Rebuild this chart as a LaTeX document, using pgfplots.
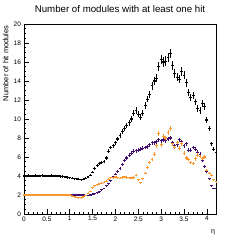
\documentclass[border=0pt]{standalone}
\usepackage{pgfplots}
\pgfplotsset{compat=1.18}
\usepackage{fontspec}
\setmainfont{Liberation Sans}
\definecolor{cpurple}{RGB}{66,13,110}
\definecolor{corange}{RGB}{250,150,45}
\pgfplotsset{
  rootplot/.style={only marks, mark=-, mark size=1.45bp, line width=1.1bp,
    mark options={line width=1.5bp},
    error bars/y dir=both, error bars/y fixed relative=0.03,
    error bars/error bar style={line width=0.9bp}, error bars/error mark=none}
}
\begin{document}
\begin{tikzpicture}
\useasboundingbox (-24bp,-26bp) rectangle (216bp,214bp);
\begin{axis}[
  at={(0,0)}, anchor=south west,
  scale only axis, width=192bp, height=190bp,
  xmin=0, xmax=4.2, ymin=0, ymax=20,
  xtick={0,0.5,...,4}, ytick={0,2,...,20},
  minor x tick num=4, minor y tick num=3,
  tick align=inside, tick pos=left,
  major tick length=5bp, minor tick length=2.5bp,
  axis line style={line width=0.8bp}, every tick/.style={line width=0.6bp, black},
  /pgf/number format/assume math mode=true,
  tick label style={font=\fontsize{6.5bp}{7bp}\selectfont},
  xticklabel style={yshift=1bp},
  yticklabel style={xshift=0.5bp},
  title={Number of modules with at least one hit},
  title style={at={(axis description cs:0.5,1)}, anchor=base, yshift=6bp, font=\fontsize{9.7bp}{11bp}\selectfont},
  ylabel={Number of hit modules},
  ylabel style={at={(axis description cs:-0.095,1.01)}, anchor=east, font=\fontsize{7.5bp}{9bp}\selectfont},
  xlabel={η},
  xlabel style={at={(axis description cs:0.985,-0.065)}, anchor=north, font=\fontsize{7bp}{8bp}\selectfont},
  clip=false,
]
\addplot[rootplot, black, mark options={black}] coordinates {
(0.00,4.0)(0.05,4.0)(0.10,4.05)(0.15,4.0)(0.20,4.0)(0.25,4.05)(0.30,4.0)(0.35,4.0)(0.40,4.05)(0.45,4.0)
(0.50,4.0)(0.55,4.0)(0.60,4.05)(0.65,4.0)(0.70,4.0)(0.75,4.0)(0.80,3.95)(0.85,3.95)(0.90,3.9)(0.95,3.85)
(1.00,3.8)(1.05,3.75)(1.10,3.7)(1.15,3.7)(1.20,3.65)(1.25,3.6)(1.30,3.65)(1.35,3.75)(1.40,3.9)(1.45,4.1)
(1.50,4.4)(1.55,4.8)(1.60,5.1)(1.65,5.3)(1.70,5.4)(1.75,5.5)(1.80,5.9)(1.85,6.6)(1.90,7.0)(1.95,7.2)
(2.00,7.5)(2.05,7.9)(2.10,8.3)(2.15,8.7)(2.20,9.0)(2.25,9.3)(2.30,9.6)(2.35,10.0)(2.40,10.6)(2.45,10.9)
(2.50,10.5)(2.55,10.2)(2.60,10.6)(2.65,11.4)(2.70,12.1)(2.75,12.6)(2.80,13.5)(2.85,14.0)(2.90,14.3)(2.95,15.5)
(3.00,16.3)(3.05,16.0)(3.10,16.1)(3.15,16.5)(3.20,16.9)(3.25,15.6)(3.30,14.8)(3.35,14.4)(3.40,14.2)(3.45,15.0)
(3.50,14.6)(3.55,13.8)(3.60,12.8)(3.65,12.3)(3.70,12.5)(3.75,11.8)(3.80,11.1)(3.85,10.9)(3.90,11.6)(3.95,11.3)
(4.00,9.9)(4.05,9.0)(4.10,7.4)(4.15,6.8)(4.20,6.5)
};
\addplot[rootplot, cpurple, mark options={cpurple}] coordinates {
(0.00,2.0)(0.05,2.0)(0.10,2.0)(0.15,2.0)(0.20,2.0)(0.25,2.0)(0.30,2.0)(0.35,2.0)(0.40,2.0)(0.45,2.0)
(0.50,2.0)(0.55,2.0)(0.60,2.0)(0.65,2.0)(0.70,2.0)(0.75,2.0)(0.80,2.0)(0.85,2.0)(0.90,2.0)(0.95,2.0)
(1.00,2.0)(1.05,2.0)(1.10,2.0)(1.15,2.0)(1.20,2.0)(1.25,2.0)(1.30,2.0)(1.35,1.95)(1.40,1.95)(1.45,2.0)
(1.50,2.1)(1.55,2.15)(1.60,2.25)(1.65,2.35)(1.70,2.55)(1.75,2.7)(1.80,3.0)(1.85,3.2)(1.90,3.5)(1.95,3.9)
(2.00,4.2)(2.05,4.5)(2.10,4.8)(2.15,5.2)(2.20,5.6)(2.25,5.9)(2.30,6.2)(2.35,6.4)(2.40,6.6)(2.45,6.65)
(2.50,6.7)(2.55,6.8)(2.60,6.9)(2.65,7.0)(2.70,7.1)(2.75,7.3)(2.80,7.5)(2.85,7.5)(2.90,7.6)(2.95,7.8)
(3.00,7.7)(3.05,7.8)(3.10,7.7)(3.15,7.9)(3.20,8.0)(3.25,7.5)(3.30,7.2)(3.35,7.3)(3.40,7.8)(3.45,7.6)
(3.50,7.2)(3.55,7.4)(3.60,6.7)(3.65,6.7)(3.70,7.0)(3.75,6.8)(3.80,6.5)(3.85,6.3)(3.90,5.6)(3.95,5.0)
(4.00,4.5)(4.05,3.7)(4.10,3.0)(4.15,2.7)(4.20,2.7)
};
\addplot[rootplot, corange, mark options={corange}] coordinates {
(0.00,2.0)(0.05,2.0)(0.10,2.0)(0.15,2.0)(0.20,2.0)(0.25,2.0)(0.30,2.0)(0.35,2.0)(0.40,2.0)(0.45,2.0)
(0.50,2.0)(0.55,2.0)(0.60,2.0)(0.65,2.0)(0.70,2.0)(0.75,2.0)(0.80,2.0)(0.85,2.0)(0.90,2.0)(0.95,2.0)
(1.00,2.0)(1.05,1.9)(1.10,1.8)(1.15,1.75)(1.20,1.7)(1.25,1.7)(1.30,1.8)(1.35,1.95)(1.40,2.2)(1.45,2.4)
(1.50,2.75)(1.55,3.0)(1.60,3.1)(1.65,3.2)(1.70,3.25)(1.75,3.35)(1.80,3.45)(1.85,3.65)(1.90,3.8)(1.95,3.85)
(2.00,3.9)(2.05,3.8)(2.10,3.75)(2.15,3.85)(2.20,3.9)(2.25,3.85)(2.30,3.8)(2.35,3.75)(2.40,3.85)(2.45,4.1)
(2.50,3.6)(2.55,3.3)(2.60,3.7)(2.65,4.3)(2.70,4.9)(2.75,5.4)(2.80,5.7)(2.85,6.3)(2.90,7.2)(2.95,8.5)
(3.00,7.3)(3.05,8.2)(3.10,8.0)(3.15,8.6)(3.20,9.0)(3.25,7.4)(3.30,7.0)(3.35,7.5)(3.40,6.9)(3.45,7.4)
(3.50,6.4)(3.55,5.9)(3.60,5.7)(3.65,5.4)(3.70,5.3)(3.75,5.8)(3.80,6.2)(3.85,6.1)(3.90,5.8)(3.95,6.0)
(4.00,4.6)(4.05,4.3)(4.10,4.1)(4.15,3.6)(4.20,3.4)
};
\end{axis}
\end{tikzpicture}
\end{document}
